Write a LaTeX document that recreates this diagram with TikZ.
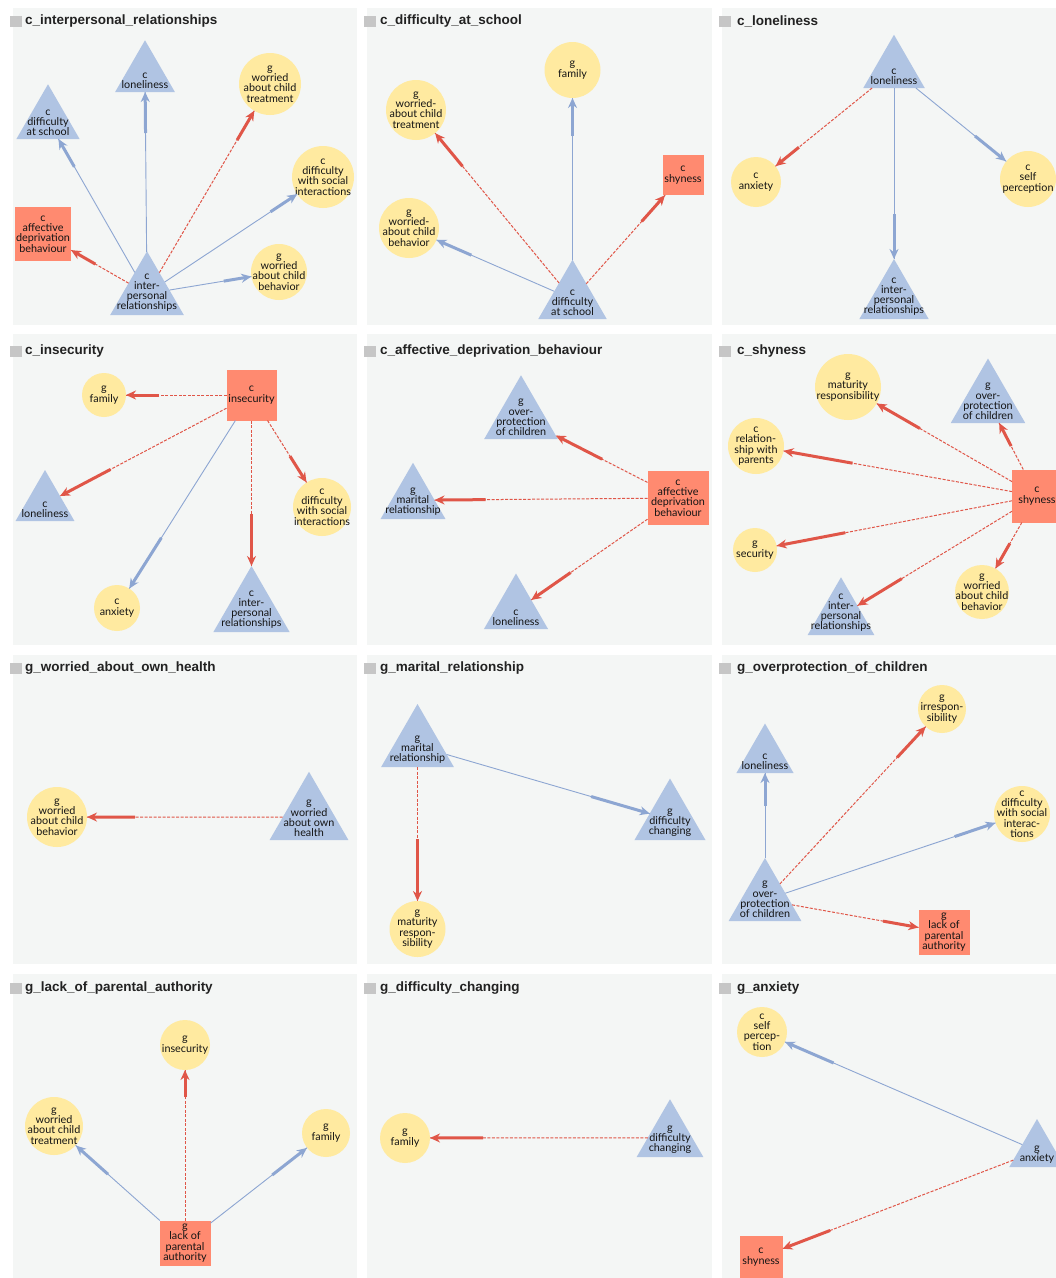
\documentclass[tikz,border=0pt]{standalone}
\usepackage{fontspec}
\setmainfont{Lato}
\newfontfamily\ttlfont{Liberation Sans}
\usetikzlibrary{shapes.geometric,arrows.meta,decorations.markings}
\definecolor{bgc}{RGB}{244,246,245}
\definecolor{tric}{RGB}{176,196,227}
\definecolor{circc}{RGB}{255,234,160}
\definecolor{sqc}{RGB}{255,138,112}
\definecolor{bec}{RGB}{141,166,210}
\definecolor{rec}{RGB}{224,86,72}
\definecolor{tsq}{RGB}{198,198,198}
\definecolor{txt}{RGB}{20,20,20}
\definecolor{ttxt}{RGB}{34,34,34}
\tikzset{
  panel/.style={fill=bgc},
  tsquare/.style={fill=tsq},
  ttl/.style={anchor=west, inner sep=0pt, text=ttxt, font=\ttlfont\bfseries\fontsize{13.5}{14}\selectfont},
  lab/.style={align=center, inner sep=0pt, text=txt, font=\fontsize{10.8}{10.3}\selectfont},
  tl/.style={lab, anchor=south, yshift=3pt},
  cl/.style={lab, anchor=center},
  tri/.style={regular polygon, regular polygon sides=3, fill=tric, draw=none, inner sep=0pt, outer sep=0pt, anchor=south},
  circ/.style={circle, fill=circc, draw=none, inner sep=0pt, outer sep=0pt},
  sq/.style={rectangle, fill=sqc, draw=none, inner sep=0pt, outer sep=0pt},
  pe/.style={draw=bec, line width=0.9pt, postaction={decorate},
    decoration={markings, mark=at position 1 with {\draw[bec, solid, line width=3pt, -{Stealth[length=10pt,width=9pt]}] (-#1,0) -- (0,0);}}},
  ne/.style={draw=rec, line width=1pt, dash pattern=on 3pt off 1.5pt, postaction={decorate},
    decoration={markings, mark=at position 1 with {\draw[rec, solid, line width=3pt, -{Stealth[length=10pt,width=9pt]}] (-#1,0) -- (0,0);}}},
}
\begin{document}
\begin{tikzpicture}[x=1pt,y=-1pt]
\useasboundingbox (0,0) rectangle (1056,1278);
\fill[white] (0,0) rectangle (1056,1278);
% panels
\fill[panel] (13,8) rectangle (357,325);
\fill[panel] (367,8) rectangle (712,325);
\fill[panel] (722,8) rectangle (1056,325);
\fill[panel] (13,334) rectangle (357,645);
\fill[panel] (367,334) rectangle (712,645);
\fill[panel] (722,334) rectangle (1056,645);
\fill[panel] (13,655) rectangle (357,964);
\fill[panel] (367,655) rectangle (712,964);
\fill[panel] (722,655) rectangle (1056,964);
\fill[panel] (13,974) rectangle (357,1278);
\fill[panel] (367,974) rectangle (712,1278);
\fill[panel] (722,974) rectangle (1056,1278);
% titles
\fill[tsquare] (10,16) rectangle (22,27);
\fill[tsquare] (364,16) rectangle (376,27);
\fill[tsquare] (719,16) rectangle (731,27);
\fill[tsquare] (10,346) rectangle (22,357);
\fill[tsquare] (364,346) rectangle (376,357);
\fill[tsquare] (719,346) rectangle (731,357);
\fill[tsquare] (10,663) rectangle (22,674);
\fill[tsquare] (364,663) rectangle (376,674);
\fill[tsquare] (719,663) rectangle (731,674);
\fill[tsquare] (10,983) rectangle (22,994);
\fill[tsquare] (364,983) rectangle (376,994);
\fill[tsquare] (719,983) rectangle (731,994);
\node[ttl] (t1) at (25,21.5) {c\_interpersonal\_relationships};
\node[ttl] (t2) at (380,21.5) {c\_difficulty\_at\_school};
\node[ttl] (t3) at (737,21.5) {c\_loneliness};
\node[ttl] (t4) at (25,351.5) {c\_insecurity};
\node[ttl] (t5) at (380,351.5) {c\_affective\_deprivation\_behaviour};
\node[ttl] (t6) at (737,351.5) {c\_shyness};
\node[ttl] (t7) at (25,668.5) {g\_worried\_about\_own\_health};
\node[ttl] (t8) at (380,668.5) {g\_marital\_relationship};
\node[ttl] (t9) at (737,668.5) {g\_overprotection\_of\_children};
\node[ttl] (t10) at (25,988.5) {g\_lack\_of\_parental\_authority};
\node[ttl] (t11) at (380,988.5) {g\_difficulty\_changing};
\node[ttl] (t12) at (737,988.5) {g\_anxiety};

% ---------- panel 1
\node[tri, minimum size=69pt, label={[tl]south:{c\\loneliness}}] (lo1) at (145,92) {};
\node[tri, minimum size=73pt, label={[tl]south:{c\\difficulty\\at school}}] (ds1) at (48,139) {};
\node[tri, minimum size=85pt, label={[tl]south:{c\\inter-\\personal\\relationships}}] (ip1) at (147,315) {};
\node[circ, minimum size=62pt, label={[cl]center:{g\\worried\\about child\\treatment}}] (wt1) at (270,84) {};
\node[circ, minimum size=62pt, label={[cl]center:{c\\difficulty\\with social\\interactions}}] (dsi1) at (323,177) {};
\node[circ, minimum size=56pt, label={[cl]center:{g\\worried\\about child\\behavior}}] (wb1) at (279,272) {};
\node[sq, minimum width=56pt, minimum height=54pt, label={[cl]center:{c\\affective\\deprivation\\behaviour}}] (ad1) at (43,234) {};
\draw[pe=32pt] (ip1) -- (ds1);
\draw[pe=41pt] (ip1) -- (lo1);
\draw[ne=34pt] (ip1) -- (wt1);
\draw[pe=32pt] (ip1) -- (dsi1);
\draw[pe=28pt] (ip1) -- (wb1);
\draw[ne=28pt] (ip1) -- (ad1);

% ---------- panel 2
\node[circ, minimum size=56pt, label={[cl]center:{g\\family}}] (fa2) at (572.5,70) {};
\node[circ, minimum size=60pt, label={[cl]center:{g\\worried-\\about child\\treatment}}] (wt2) at (416,110) {};
\node[circ, minimum size=60pt, label={[cl]center:{g\\worried-\\about child\\behavior}}] (wb2) at (409,228) {};
\node[sq, minimum width=41pt, minimum height=40pt, label={[cl]center:{c\\shyness}}] (sh2) at (683,175) {};
\node[tri, minimum size=79pt, label={[tl]south:{c\\difficulty\\at school}}] (ds2) at (572.5,319) {};
\draw[pe=38pt] (ds2) -- (fa2);
\draw[ne=43pt] (ds2) -- (wt2);
\draw[ne=35pt] (ds2) -- (sh2);
\draw[pe=38pt] (ds2) -- (wb2);

% ---------- panel 3
\node[tri, minimum size=71pt, label={[tl]south:{c\\loneliness}}] (lo3) at (894,88) {};
\node[circ, minimum size=50pt, label={[cl]center:{c\\anxiety}}] (anx3) at (756,182) {};
\node[circ, minimum size=56pt, label={[cl]center:{c\\self\\perception}}] (sp3) at (1028,179) {};
\node[tri, minimum size=80pt, label={[tl]south:{c\\inter-\\personal\\relationships}}] (ip3) at (894,319) {};
\draw[ne=30pt] (lo3) -- (anx3);
\draw[pe=45pt] (lo3) -- (ip3);
\draw[pe=40pt] (lo3) -- (sp3);

% ---------- panel 4
\node[sq, minimum width=50pt, minimum height=51pt, label={[cl]center:{c\\insecurity}}] (ins4) at (251.5,395) {};
\node[circ, minimum size=44pt, label={[cl]center:{g\\family}}] (fam4) at (104,395) {};
\node[tri, minimum size=68pt, label={[tl]south:{c\\loneliness}}] (lo4) at (45,521) {};
\node[circ, minimum size=58pt, label={[cl]center:{c\\difficulty\\with social\\interactions}}] (dsi4) at (322,507) {};
\node[circ, minimum size=46pt, label={[cl]center:{c\\anxiety}}] (anx4) at (117,608) {};
\node[tri, minimum size=88pt, label={[tl]south:{c\\inter-\\personal\\relationships}}] (ip4) at (251.5,632) {};
\draw[ne=33pt] (ins4) -- (fam4);
\draw[ne=57pt] (ins4) -- (lo4);
\draw[pe=60pt] (ins4) -- (anx4);
\draw[ne=52pt] (ins4) -- (ip4);
\draw[ne=31pt] (ins4) -- (dsi4);

% ---------- panel 5
\node[tri, minimum size=85pt, label={[tl]south:{g\\over-\\protection\\of children}}] (op5) at (521,439) {};
\node[tri, minimum size=75pt, label={[tl]south:{g\\marital\\relationship}}] (mr5) at (413,519) {};
\node[tri, minimum size=74pt, label={[tl]south:{c\\loneliness}}] (lo5) at (516,629) {};
\node[sq, minimum width=61pt, minimum height=54pt, label={[cl]center:{c\\affective\\deprivation\\behaviour}}] (ad5) at (678,498) {};
\draw[ne=52pt] (ad5) -- (op5);
\draw[ne=51pt] (ad5) -- (mr5);
\draw[ne=48pt] (ad5) -- (lo5);

% ---------- panel 6
\node[circ, minimum size=66pt, label={[cl]center:{g\\maturity\\responsibility}}] (mat6) at (848,387) {};
\node[tri, minimum size=86pt, label={[tl]south:{g\\over-\\protection\\of children}}] (op6) at (988,423) {};
\node[circ, minimum size=56pt, label={[cl]center:{c\\relation-\\ship with\\parents}}] (rel6) at (756,446) {};
\node[circ, minimum size=44pt, label={[cl]center:{g\\security}}] (sec6) at (755,550) {};
\node[tri, minimum size=77pt, label={[tl]south:{c\\inter-\\personal\\relationships}}] (ip6) at (841,635) {};
\node[circ, minimum size=54pt, label={[cl]center:{g\\worried\\about child\\behavior}}] (wb6) at (982,592) {};
\node[sq, minimum width=50pt, minimum height=53pt, label={[cl]center:{c\\shyness}}] (sh6) at (1037,496) {};
\draw[ne=50pt] (sh6) -- (mat6);
\draw[ne=26pt] (sh6) -- (op6);
\draw[ne=70pt] (sh6) -- (rel6);
\draw[ne=70pt] (sh6) -- (sec6);
\draw[ne=52pt] (sh6) -- (ip6);
\draw[ne=29pt] (sh6) -- (wb6);

% ---------- panel 7
\node[circ, minimum size=60pt, label={[cl]center:{g\\worried\\about child\\behavior}}] (wb7) at (57,817) {};
\node[tri, minimum size=91pt, label={[tl]south:{g\\worried\\about own\\health}}] (oh7) at (309,840) {};
\draw[ne=48pt] (oh7) -- (wb7);

% ---------- panel 8
\node[tri, minimum size=84pt, label={[tl]south:{g\\marital\\relationship}}] (mr8) at (417.5,767) {};
\node[tri, minimum size=82pt, label={[tl]south:{g\\difficulty\\changing}}] (dc8) at (670,840) {};
\node[circ, minimum size=56pt, label={[cl]center:{g\\maturity\\respon-\\sibility}}] (mat8) at (417.5,929) {};
\draw[pe=61pt] (mr8) -- (dc8);
\draw[ne=62pt] (mr8) -- (mat8);

% ---------- panel 9
\node[circ, minimum size=48pt, label={[cl]center:{g\\irrespon-\\sibility}}] (irr9) at (942,709) {};
\node[tri, minimum size=66pt, label={[tl]south:{c\\loneliness}}] (lo9) at (765,773) {};
\node[circ, minimum size=56pt, label={[cl]center:{c\\difficulty\\with social\\interac-\\tions}}] (dsi9) at (1022,814) {};
\node[tri, minimum size=84pt, label={[tl]south:{g\\over-\\protection\\of children}}] (op9) at (765,921) {};
\node[sq, minimum width=51pt, minimum height=45pt, label={[cl]center:{g\\lack of\\parental\\authority}}] (la9) at (944,932) {};
\draw[pe=33pt] (op9) -- (lo9);
\draw[ne=42pt] (op9) -- (irr9);
\draw[pe=43pt] (op9) -- (dsi9);
\draw[ne=36pt] (op9) -- (la9);

% ---------- panel 10
\node[circ, minimum size=50pt, label={[cl]center:{g\\insecurity}}] (ins10) at (185,1045) {};
\node[circ, minimum size=58pt, label={[cl]center:{g\\worried\\about child\\treatment}}] (wt10) at (54,1126) {};
\node[circ, minimum size=48pt, label={[cl]center:{g\\family}}] (fam10) at (326,1133) {};
\node[sq, minimum width=51pt, minimum height=45pt, label={[cl]center:{g\\lack of\\parental\\authority}}] (la10) at (185,1243) {};
\draw[ne=27pt] (la10) -- (ins10);
\draw[pe=43pt] (la10) -- (wt10);
\draw[pe=44pt] (la10) -- (fam10);

% ---------- panel 11
\node[circ, minimum size=50pt, label={[cl]center:{g\\family}}] (fam11) at (405,1138) {};
\node[tri, minimum size=77pt, label={[tl]south:{g\\difficulty\\changing}}] (dc11) at (670,1157) {};
\draw[ne=53pt] (dc11) -- (fam11);

% ---------- panel 12
\node[circ, minimum size=50pt, label={[cl]center:{c\\self\\percep-\\tion}}] (sp12) at (762,1032) {};
\node[tri, minimum size=64pt, label={[tl]south:{g\\anxiety}}] (anx12) at (1037,1167) {};
\node[sq, minimum width=43pt, minimum height=43pt, label={[cl]center:{c\\shyness}}] (sh12) at (761,1257) {};
\draw[pe=53pt] (anx12) -- (sp12);
\draw[ne=51pt] (anx12) -- (sh12);
\end{tikzpicture}
\end{document}
